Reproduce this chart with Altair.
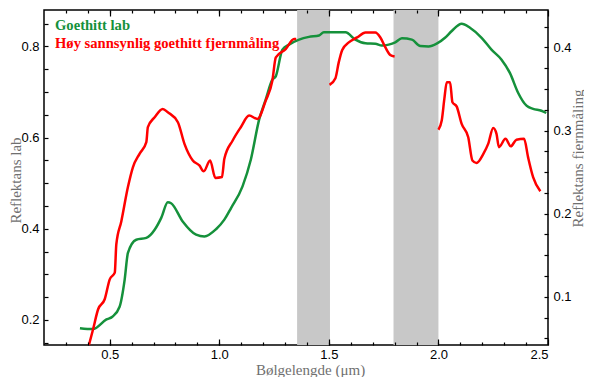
import altair as alt
import pandas as pd

# ---------------- data ----------------
green_x = [0.364, 0.423, 0.485, 0.512, 0.545, 0.568, 0.583, 0.621, 0.667, 0.705, 0.735, 0.765, 0.78,
           0.833, 0.894, 0.932, 0.985, 1.023, 1.053, 1.106, 1.144, 1.182, 1.212, 1.242, 1.258, 1.288,
           1.318, 1.364, 1.409, 1.455, 1.477, 1.576, 1.621, 1.667, 1.712, 1.742, 1.773, 1.803, 1.833,
           1.879, 1.917, 1.955, 1.992, 2.03, 2.061, 2.106, 2.144, 2.197, 2.242, 2.288, 2.326, 2.364,
           2.402, 2.432, 2.47, 2.492]
green_y = [0.182, 0.180, 0.201, 0.207, 0.229, 0.288, 0.347, 0.376, 0.380, 0.398, 0.424, 0.458, 0.456,
           0.416, 0.387, 0.383, 0.399, 0.420, 0.445, 0.493, 0.552, 0.640, 0.684, 0.727, 0.735, 0.793,
           0.804, 0.815, 0.821, 0.824, 0.831, 0.831, 0.815, 0.807, 0.806, 0.802, 0.804, 0.809, 0.818,
           0.815, 0.801, 0.800, 0.806, 0.819, 0.834, 0.850, 0.841, 0.819, 0.793, 0.771, 0.742, 0.698,
           0.670, 0.663, 0.659, 0.654]

red1_x = [0.405, 0.424, 0.447, 0.477, 0.5, 0.523, 0.530, 0.553, 0.583, 0.606, 0.636, 0.667, 0.674,
          0.705, 0.742, 0.765, 0.811, 0.841, 0.879, 0.909, 0.929, 0.958, 0.982, 1.012, 1.023, 1.061,
          1.098, 1.136, 1.174, 1.212, 1.242, 1.258, 1.303, 1.341, 1.351]
red1_y = [0.042, 0.061, 0.085, 0.097, 0.121, 0.129, 0.163, 0.191, 0.232, 0.256, 0.272, 0.286, 0.304,
          0.316, 0.326, 0.322, 0.310, 0.284, 0.264, 0.258, 0.251, 0.264, 0.243, 0.244, 0.266, 0.288,
          0.304, 0.318, 0.314, 0.336, 0.360, 0.388, 0.398, 0.410, 0.410]
red2_x = [1.503, 1.53, 1.545, 1.561, 1.591, 1.629, 1.667, 1.712, 1.735, 1.758, 1.78, 1.8]
red2_y = [0.355, 0.363, 0.382, 0.397, 0.406, 0.412, 0.418, 0.418, 0.412, 0.400, 0.391, 0.389]
red3_x = [2.0, 2.015, 2.027, 2.038, 2.053, 2.064, 2.083, 2.106, 2.136, 2.155, 2.174, 2.205, 2.227,
          2.25, 2.265, 2.276, 2.306, 2.33, 2.356, 2.391, 2.409, 2.432, 2.465]
red3_y = [0.301, 0.312, 0.338, 0.358, 0.358, 0.334, 0.329, 0.308, 0.292, 0.264, 0.261, 0.272, 0.284,
          0.303, 0.296, 0.280, 0.290, 0.281, 0.289, 0.290, 0.268, 0.244, 0.227]

band_start = [1.355, 1.795]
band_end = [1.505, 2.0]

x_label_vals = [0.5, 1.0, 1.5, 2.0, 2.5]
x_minor_vals = [0.3, 0.4, 0.5, 0.6, 0.7, 0.8, 0.9, 1.0, 1.1, 1.2, 1.3, 1.4, 1.5, 1.6, 1.7, 1.8,
                1.9, 2.0, 2.1, 2.2, 2.3, 2.4]
yl_label_vals = [0.2, 0.4, 0.6, 0.8]
yl_tick_vals = [0.15, 0.2, 0.25, 0.3, 0.35, 0.4, 0.45, 0.5, 0.55, 0.6, 0.65, 0.7, 0.75, 0.8, 0.85]
yr_label_vals = [0.1, 0.2, 0.3, 0.4]
yr_tick_vals = [0.05, 0.075, 0.1, 0.125, 0.15, 0.175, 0.2, 0.225, 0.25, 0.275, 0.3, 0.325, 0.35,
                0.375, 0.4, 0.425]

legend_labels = ["Goethitt lab", "Høy sannsynlig goethitt fjernmåling"]

# ---------------- styling ----------------
GREEN = "#15913b"
RED = "#ff0000"
BAND = "#c8c8c8"
W, H = 504, 335
X_DOM = [0.2, 2.5]
YL_DOM = [0.145, 0.88]
YR_DOM = [0.042, 0.445]
SERIF = "Liberation Serif"

green_df = pd.DataFrame({"x": green_x, "y": green_y})
red_df = pd.concat([
    pd.DataFrame({"x": red1_x, "y": red1_y, "seg": "a"}),
    pd.DataFrame({"x": red2_x, "y": red2_y, "seg": "b"}),
    pd.DataFrame({"x": red3_x, "y": red3_y, "seg": "c"}),
], ignore_index=True)
band_df = pd.DataFrame({"x0": band_start, "x1": band_end})


def xenc(axis, field="x"):
    return alt.X(f"{field}:Q", scale=alt.Scale(domain=X_DOM, nice=False, zero=False), axis=axis)


def yenc(dom, axis):
    return alt.Y("y:Q", scale=alt.Scale(domain=dom, nice=False, zero=False), axis=axis)


tick_common = dict(labels=False, domain=False, grid=False, title="", zindex=1,
                   tickColor="black", tickWidth=1.2)

bands = alt.Chart(band_df).mark_rect(color=BAND).encode(
    x=xenc(None, "x0"), x2="x1:Q")

green = alt.Chart(green_df).mark_line(color=GREEN, strokeWidth=2.5, interpolate="monotone").encode(
    x=xenc(alt.Axis(orient="bottom", values=x_label_vals, format=".1f", ticks=False, domain=False,
                    grid=False, labelPadding=3, title="Bølgelengde (μm)", titleX=266, titleY=29,
                    titleBaseline="alphabetic", titleAlign="center", titleFont=SERIF)),
    y=yenc(YL_DOM, alt.Axis(orient="left", values=yl_label_vals, format=".1f", ticks=False,
                            domain=False, grid=False, labelPadding=5, title="Reflektans lab",
                            titleX=-29, titleY=170, titleAngle=270, titleBaseline="middle",
                            titleAlign="center", titleFont=SERIF)),
)

red = alt.Chart(red_df).mark_line(color=RED, strokeWidth=2.5, interpolate="monotone").encode(
    x=xenc(alt.Axis(orient="top", offset=-H, values=x_label_vals, tickSize=6, **tick_common)),
    y=yenc(YR_DOM, alt.Axis(orient="right", values=yr_label_vals, format=".1f", ticks=False,
                            domain=False, grid=False, labelPadding=5,
                            title="Reflektans fjernmåling", titleX=29, titleY=148, titleAngle=270,
                            titleBaseline="middle", titleAlign="center", titleFont=SERIF)),
    detail="seg:N",
)

inv1 = alt.Chart(green_df).mark_line(strokeOpacity=0).encode(
    x=xenc(alt.Axis(orient="top", offset=-H, values=x_minor_vals, tickSize=3, **tick_common)),
    y=yenc(YL_DOM, alt.Axis(orient="right", offset=-W, values=yl_tick_vals, tickSize=4, **tick_common)),
)
inv2 = alt.Chart(red_df).mark_line(strokeOpacity=0).encode(
    x=xenc(alt.Axis(orient="bottom", offset=-H, values=x_label_vals, tickSize=6, **tick_common)),
    y=yenc(YR_DOM, alt.Axis(orient="left", offset=-W, values=yr_tick_vals, tickSize=4, **tick_common)),
    detail="seg:N",
)
inv3 = alt.Chart(green_df).mark_line(strokeOpacity=0).encode(
    x=xenc(alt.Axis(orient="bottom", offset=-H, values=x_minor_vals, tickSize=3, **tick_common)),
    y=yenc(YL_DOM, None),
)

t1 = alt.Chart(pd.DataFrame({"t": [legend_labels[0]]})).mark_text(
    align="left", baseline="alphabetic", font=SERIF, fontWeight="bold", fontSize=14.6,
    color=GREEN).encode(x=alt.value(11), y=alt.value(20), text="t:N")
t2 = alt.Chart(pd.DataFrame({"t": [legend_labels[1]]})).mark_text(
    align="left", baseline="alphabetic", font=SERIF, fontWeight="bold", fontSize=14.6,
    color=RED).encode(x=alt.value(11), y=alt.value(37.5), text="t:N")

chart = alt.layer(bands, green, red, inv1, inv2, inv3, t1, t2).resolve_scale(
    x="independent", y="independent").resolve_axis(x="independent", y="independent").properties(
    width=W, height=H, autosize=alt.AutoSizeParams(type="none"),
    padding={"left": 36, "top": 2, "right": 36, "bottom": 32},
).configure_view(stroke="black", strokeWidth=1.5).configure_axis(
    labelFont="Liberation Sans", labelFontSize=13, labelColor="black",
    titleFont=SERIF, titleFontSize=15, titleFontWeight="normal", titleColor="#707070",
)

chart.save("out.html", embed_options={"renderer": "svg", "actions": False})
